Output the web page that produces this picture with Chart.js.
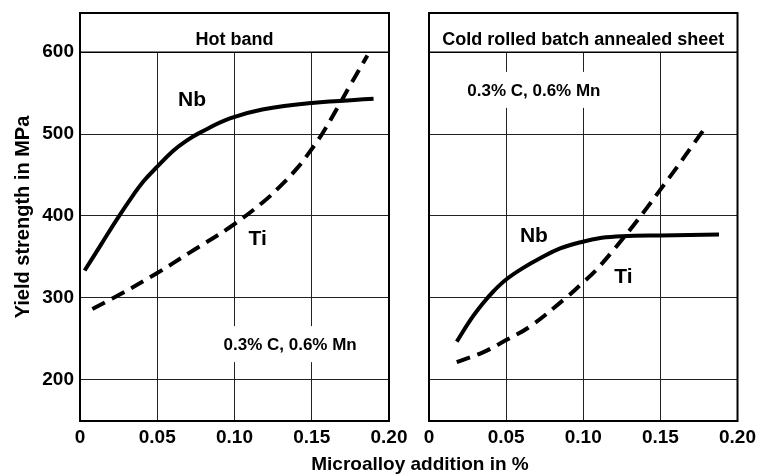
<!DOCTYPE html>
<html>
<head>
<meta charset="utf-8">
<script src="https://cdn.jsdelivr.net/npm/chart.js@4/dist/chart.umd.min.js"></script>
<style>
  html, body { margin:0; padding:0; background:#fff; }
  #wrap { position:relative; width:761px; height:475px; overflow:hidden; background:#fff; }
  .pane { position:absolute; top:0; }
  #xtitle { position:absolute; left:0; width:840px; top:454px; text-align:center;
            font: bold 19px "Liberation Sans", Arial, sans-serif; line-height:19px; color:#000; }
</style>
</head>
<body>
<div id="wrap">
  <div class="pane" style="left:0px"><canvas id="left" width="420" height="475"></canvas></div>
  <div class="pane" style="left:410px"><canvas id="right" width="351" height="475"></canvas></div>
  <div id="xtitle">Microalloy addition in %</div>
</div>
<script>
// ---- data ----
const xTickValues = [0, 0.05, 0.10, 0.15, 0.20];
const xTickLabels = ['0', '0.05', '0.10', '0.15', '0.20'];
const yTickValues = [200, 300, 400, 500, 600];

const panelTitles = ['Hot band', 'Cold rolled batch annealed sheet'];
const noteText = '0.3% C, 0.6% Mn';

// Hot band
const hotNbX = [0.003, 0.014, 0.024, 0.034, 0.041, 0.050, 0.060, 0.069, 0.078, 0.097, 0.118, 0.150, 0.190];
const hotNbY = [333, 366, 396, 424, 442, 460, 479, 492, 502, 519, 530, 538, 543];
const hotTiX = [0.008, 0.026, 0.050, 0.071, 0.097, 0.118, 0.129, 0.140, 0.149, 0.157, 0.166, 0.175, 0.186];
const hotTiY = [286, 304, 330, 355, 386, 416, 435, 457, 479, 501, 530, 560, 596];

// Cold rolled batch annealed sheet
const coldNbX = [0.018, 0.027, 0.035, 0.042, 0.050, 0.060, 0.072, 0.085, 0.099, 0.112, 0.125, 0.150, 0.188];
const coldNbY = [246, 273, 293, 308, 322, 335, 348, 360, 368, 373, 375, 376, 377];
const coldTiX = [0.018, 0.035, 0.050, 0.065, 0.089, 0.099, 0.108, 0.120, 0.132, 0.141, 0.150, 0.161, 0.170, 0.180];
const coldTiY = [221, 233, 248, 264, 300, 317, 333, 359, 387, 409, 432, 460, 484, 510];

// text annotations placed in data coordinates [x, y]
const hotLabels  = { Nb: [0.0725, 543], Ti: [0.115, 373], note: [0.136, 243] };
const coldLabels = { Nb: [0.068, 376], Ti: [0.126, 326], note: [0.068, 554] };

// ---- chart setup ----
const FONT = '"Liberation Sans", Arial, sans-serif';
Chart.defaults.font.family = FONT;
Chart.defaults.color = '#000';

const toPts = (xs, ys) => xs.map((x, i) => ({ x: x, y: ys[i] }));

const panelPlugin = {
  id: 'panel',
  beforeDatasetsDraw(chart, args, opts) {
    const { ctx, chartArea: a, scales: { x, y } } = chart;
    const yb = y.getPixelForValue(600);
    ctx.save();
    // title band
    ctx.fillStyle = '#fff';
    ctx.fillRect(a.left, a.top, a.right - a.left, yb - a.top);
    ctx.strokeStyle = '#000';
    ctx.lineWidth = 1.5;
    ctx.beginPath(); ctx.moveTo(a.left, yb); ctx.lineTo(a.right, yb); ctx.stroke();
    ctx.fillStyle = '#000';
    ctx.font = 'bold 18px ' + FONT;
    ctx.textAlign = 'center';
    ctx.textBaseline = 'alphabetic';
    ctx.fillText(opts.title, (a.left + a.right) / 2, a.top + 32);
    // condition note with white box
    const L = opts.labels;
    ctx.font = 'bold 17px ' + FONT;
    const nx = x.getPixelForValue(L.note[0]), ny = y.getPixelForValue(L.note[1]);
    const w = ctx.measureText(noteText).width;
    ctx.fillStyle = '#fff';
    ctx.fillRect(nx - w / 2 - 5, ny - 18, w + 10, 36);
    ctx.fillStyle = '#000';
    ctx.textBaseline = 'middle';
    ctx.fillText(noteText, nx, ny + 1);
    // curve labels
    ctx.font = 'bold 21px ' + FONT;
    ctx.fillText('Nb', x.getPixelForValue(L.Nb[0]), y.getPixelForValue(L.Nb[1]) + 1);
    ctx.fillText('Ti', x.getPixelForValue(L.Ti[0]), y.getPixelForValue(L.Ti[1]) + 1);
    ctx.restore();
  },
  afterDraw(chart) {
    const { ctx, chartArea: a } = chart;
    ctx.save();
    ctx.strokeStyle = '#000';
    ctx.lineWidth = 2;
    ctx.strokeRect(a.left, a.top, a.right - a.left, a.bottom - a.top);
    ctx.restore();
  }
};

function makeChart(id, nbX, nbY, tiX, tiY, title, labels, showY, yWidth, padRight) {
  return new Chart(document.getElementById(id), {
    type: 'line',
    data: {
      datasets: [
        { label: 'Nb', data: toPts(nbX, nbY), borderColor: '#000', borderWidth: 4,
          pointRadius: 0, tension: 0.4, fill: false },
        { label: 'Ti', data: toPts(tiX, tiY), borderColor: '#000', borderWidth: 4,
          borderDash: [14, 8], pointRadius: 0, tension: 0.4, fill: false }
      ]
    },
    options: {
      responsive: false,
      animation: false,
      devicePixelRatio: 1,
      layout: { padding: { top: 13, right: padRight, bottom: 0, left: 0 } },
      plugins: { legend: { display: false }, tooltip: { enabled: false }, panel: { title: title, labels: labels } },
      scales: {
        x: {
          type: 'linear', min: 0, max: 0.2,
          afterBuildTicks: s => { s.ticks = xTickValues.map(v => ({ value: v })); },
          afterFit: s => { s.height = 54; },
          ticks: { callback: (v, i) => xTickLabels[i], font: { size: 19, weight: 'bold' },
                   color: '#000', padding: 5, maxRotation: 0, autoSkip: false },
          grid: { color: '#222', lineWidth: 1, drawTicks: false },
          border: { display: false }
        },
        y: {
          type: 'linear', min: 149, max: 648,
          afterBuildTicks: s => { s.ticks = yTickValues.map(v => ({ value: v })); },
          afterFit: s => { s.width = yWidth; s.paddingTop = 0; s.paddingBottom = 0; },
          ticks: { display: showY, callback: v => String(v), font: { size: 19, weight: 'bold' },
                   color: '#000', padding: 6 },
          grid: { color: '#222', lineWidth: 1, drawTicks: false },
          border: { display: false },
          title: { display: showY, text: 'Yield strength in MPa', color: '#000',
                   font: { size: 20, weight: 'bold' }, padding: { top: 11, bottom: 0 } }
        }
      }
    },
    plugins: [panelPlugin]
  });
}

makeChart('left', hotNbX, hotNbY, hotTiX, hotTiY, panelTitles[0], hotLabels, true, 80, 31);
makeChart('right', coldNbX, coldNbY, coldTiX, coldTiY, panelTitles[1], coldLabels, false, 19, 22);
</script>
</body>
</html>
